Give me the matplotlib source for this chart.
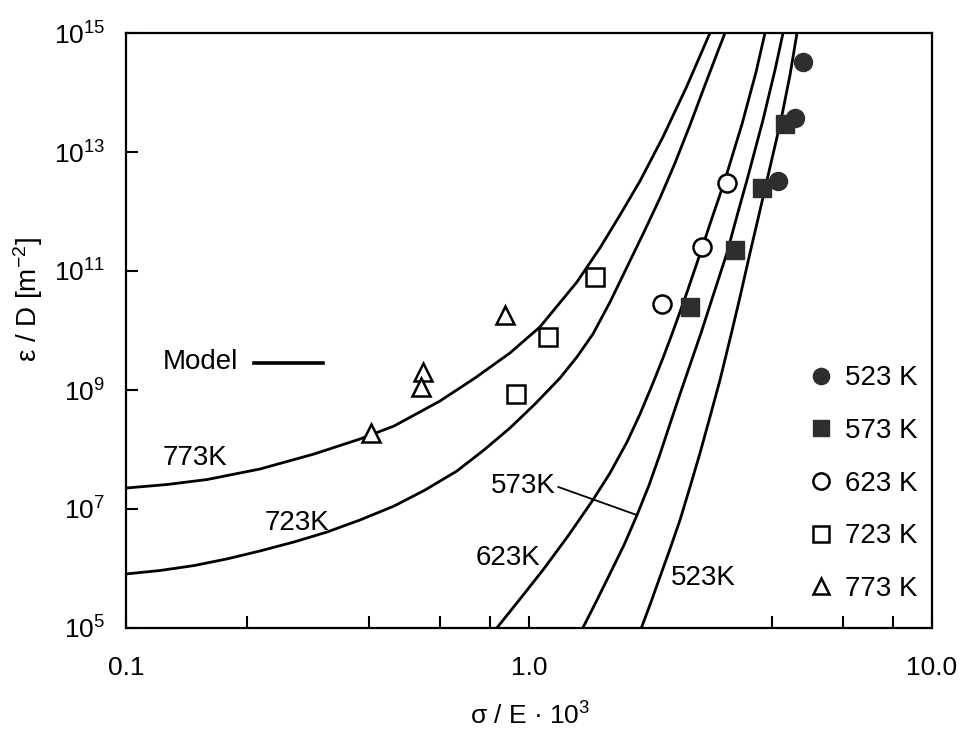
import matplotlib
matplotlib.use("Agg")
import matplotlib.pyplot as plt

FONT = ["Liberation Sans", "DejaVu Sans"]
plt.rcParams["font.family"] = FONT
plt.rcParams["mathtext.fontset"] = "custom"
plt.rcParams["mathtext.rm"] = "Liberation Sans"
plt.rcParams["mathtext.it"] = "Liberation Sans:italic"
plt.rcParams["mathtext.bf"] = "Liberation Sans:bold"

# ---- model curves: sigma/E*1e3 vs strain-rate / D -------------------------
model_773_x = [0.1, 0.1264, 0.159, 0.215, 0.2927, 0.3806, 0.4624, 0.6013, 0.7345,
               0.897, 1.065, 1.315, 1.50, 1.682, 1.886, 2.15, 2.453, 2.812]
model_773_y = [2.25e7, 2.58e7, 3.13e7, 4.70e7, 8.39e7, 1.50e8, 2.48e8, 6.53e8,
               1.59e9, 4.19e9, 1.15e10, 6.53e10, 2.44e11, 8.73e11, 3.26e12,
               1.79e13, 1.19e14, 1.0e15]

model_723_x = [0.1, 0.1214, 0.1475, 0.1781, 0.215, 0.2611, 0.3153, 0.3806, 0.4624,
               0.5519, 0.6628, 0.7731, 0.897, 1.035, 1.194, 1.315, 1.441, 1.589,
               1.751, 1.929, 2.114, 2.303, 2.509, 2.734, 2.944, 3.064]
model_723_y = [8.09e5, 9.25e5, 1.12e6, 1.45e6, 1.97e6, 2.79e6, 4.10e6, 6.53e6,
               1.12e7, 2.08e7, 4.36e7, 9.82e7, 2.30e8, 5.82e8, 1.59e9, 3.59e9,
               8.73e9, 3.01e10, 1.17e11, 4.52e11, 1.69e12, 6.53e12, 2.84e13,
               1.34e14, 4.98e14, 1.0e15]

model_623_x = [0.832, 0.9499, 1.083, 1.250, 1.441, 1.589, 1.751, 1.886, 2.031, 2.150,
               2.264, 2.453, 2.657, 2.845, 3.047, 3.378, 3.659, 3.851]
model_623_y = [1.0e5, 3.07e5, 9.44e5, 3.52e6, 1.42e7, 4.03e7, 1.34e8, 3.95e8, 1.31e9,
               3.45e9, 8.73e9, 3.95e10, 1.93e11, 7.78e11, 3.01e12, 2.96e13,
               2.21e14, 1.0e15]

model_573_x = [1.36, 1.475, 1.589, 1.721, 1.854, 1.986, 2.114, 2.238, 2.370, 2.672,
               2.877, 3.099, 3.281, 3.475, 3.807, 4.078, 4.269]
model_573_y = [1.0e5, 2.96e5, 8.24e5, 2.48e6, 7.92e6, 2.53e7, 8.39e7, 2.69e8, 8.57e8,
               9.08e9, 4.27e10, 2.01e11, 8.39e11, 3.38e12, 3.45e13, 2.39e14, 1.0e15]

model_523_x = [1.90, 2.008, 2.113, 2.238, 2.370, 2.509, 2.657, 2.812, 2.978, 3.171,
               3.339, 3.535, 3.700, 3.896, 4.22, 4.443, 4.624]
model_523_y = [1.0e5, 2.73e5, 7.2e5, 2.13e6, 6.53e6, 2.34e7, 8.73e7, 3.52e8, 1.47e9,
               8.39e9, 3.66e10, 2.01e11, 7.48e11, 3.38e12, 3.45e13, 1.97e14, 1.0e15]

# ---- measured points ------------------------------------------------------
meas_523_x = [4.777, 4.571, 4.156]
meas_523_y = [3.3e14, 3.77e13, 3.26e12]
meas_573_x = [4.317, 3.779, 3.244, 2.509]
meas_573_y = [2.96e13, 2.46e12, 2.25e11, 2.48e10]
meas_623_x = [3.105, 2.683, 2.142]
meas_623_y = [2.98e12, 2.56e11, 2.79e10]
meas_723_x = [1.458, 1.115, 0.929]
meas_723_y = [7.93e10, 7.78e9, 8.57e8]
meas_773_x = [0.872, 0.5457, 0.5395, 0.4055]
meas_773_y = [1.82e10, 2.01e9, 1.12e9, 1.89e8]

legend_labels = ["523 K", "573 K", "623 K", "723 K", "773 K"]
curve_labels = ["773K", "723K", "573K", "623K", "523K"]

x_major = [0.1, 1.0, 10.0]
x_major_labels = ["0.1", "1.0", "10.0"]
x_minor = [0.2, 0.4, 0.6, 0.8, 4, 6, 8]
y_exponents = [5, 7, 9, 11, 13, 15]

# ---- figure ---------------------------------------------------------------
fig = plt.figure(figsize=(9.70, 7.38), dpi=100)
ax = fig.add_axes([126 / 970, 1 - 628 / 738, 806 / 970, 595 / 738])
ax.set_xscale("log")
ax.set_yscale("log")
ax.set_xlim(0.1, 10.0)
ax.set_ylim(1e5, 1e15)

LW = 2.0
for xs, ys in [(model_773_x, model_773_y), (model_723_x, model_723_y),
               (model_623_x, model_623_y), (model_573_x, model_573_y),
               (model_523_x, model_523_y)]:
    ax.plot(xs, ys, color="black", lw=LW, solid_joinstyle="round", zorder=2)

DARK = "#2e2e2e"
MS = 13
ax.plot(meas_523_x, meas_523_y, ls="none", marker="o", ms=MS, mfc=DARK, mec=DARK,
        label=legend_labels[0], zorder=3)
ax.plot(meas_573_x, meas_573_y, ls="none", marker="s", ms=MS, mfc=DARK, mec=DARK,
        label=legend_labels[1], zorder=3)
ax.plot(meas_623_x, meas_623_y, ls="none", marker="o", ms=MS, mfc="white", mec="black",
        mew=1.8, label=legend_labels[2], zorder=3)
ax.plot(meas_723_x, meas_723_y, ls="none", marker="s", ms=MS, mfc="white", mec="black",
        mew=1.8, label=legend_labels[3], zorder=3)
ax.plot(meas_773_x, meas_773_y, ls="none", marker="^", ms=MS, mfc="white", mec="black",
        mew=1.8, label=legend_labels[4], zorder=3)

# curve annotations
TS = 20
ax.text(0.148, 7.2e7, curve_labels[0], fontsize=TS, ha="center", va="center")
ax.text(0.2656, 5.82e6, curve_labels[1], fontsize=TS, ha="center", va="center")
ax.annotate(curve_labels[2], xy=(1.854, 7.9e6), xytext=(0.966, 2.44e7),
            fontsize=TS, ha="center", va="center",
            arrowprops=dict(arrowstyle="-", lw=1.3, color="black",
                            shrinkA=0, shrinkB=0,
                            relpos=(1.0, 0.5)))
ax.text(0.887, 1.5e6, curve_labels[3], fontsize=TS, ha="center", va="center")
ax.text(2.703, 6.92e5, curve_labels[4], fontsize=TS, ha="center", va="center")

# "Model" key
ax.text(0.1527, 2.96e9, "Model", fontsize=TS, ha="center", va="center")
ax.plot([0.2078, 0.3082], [2.84e9, 2.84e9], color="black", lw=2.6)

# legend for the measured points
leg = ax.legend(loc="center left", bbox_to_anchor=(0.846, 0.2424), frameon=False,
                fontsize=20, handlelength=0.95, handletextpad=0.4,
                labelspacing=0.96, borderpad=0.0, borderaxespad=0.0,
                markerscale=0.9)

# axes styling
for sp in ax.spines.values():
    sp.set_linewidth(1.6)

ax.xaxis.set_major_locator(matplotlib.ticker.FixedLocator(x_major))
ax.xaxis.set_major_formatter(matplotlib.ticker.FixedFormatter(x_major_labels))
ax.xaxis.set_minor_locator(matplotlib.ticker.FixedLocator(x_minor))
ax.xaxis.set_minor_formatter(matplotlib.ticker.NullFormatter())
ax.yaxis.set_major_locator(matplotlib.ticker.FixedLocator([10.0 ** e for e in y_exponents]))
ax.yaxis.set_major_formatter(matplotlib.ticker.FixedFormatter(
    [r"$\mathregular{10^{%d}}$" % e for e in y_exponents]))
ax.yaxis.set_minor_locator(matplotlib.ticker.NullLocator())

ax.tick_params(axis="both", which="both", direction="in", length=8.5, width=1.5,
               top=False, right=False, colors="black")
ax.tick_params(axis="x", which="major", labelsize=19, pad=20)
ax.tick_params(axis="y", which="major", labelsize=19, pad=15)

fig.text(28 / 970, 1 - 300 / 738, "ε / D [$\\mathregular{m^{-2}}$]", rotation=90,
         fontsize=20, ha="center", va="center")
fig.text(530 / 970, 1 - 716 / 738, "σ / E · $\\mathregular{10^{3}}$",
         fontsize=19, ha="center", va="center")

fig.savefig("out.png", dpi=100, facecolor="white")
